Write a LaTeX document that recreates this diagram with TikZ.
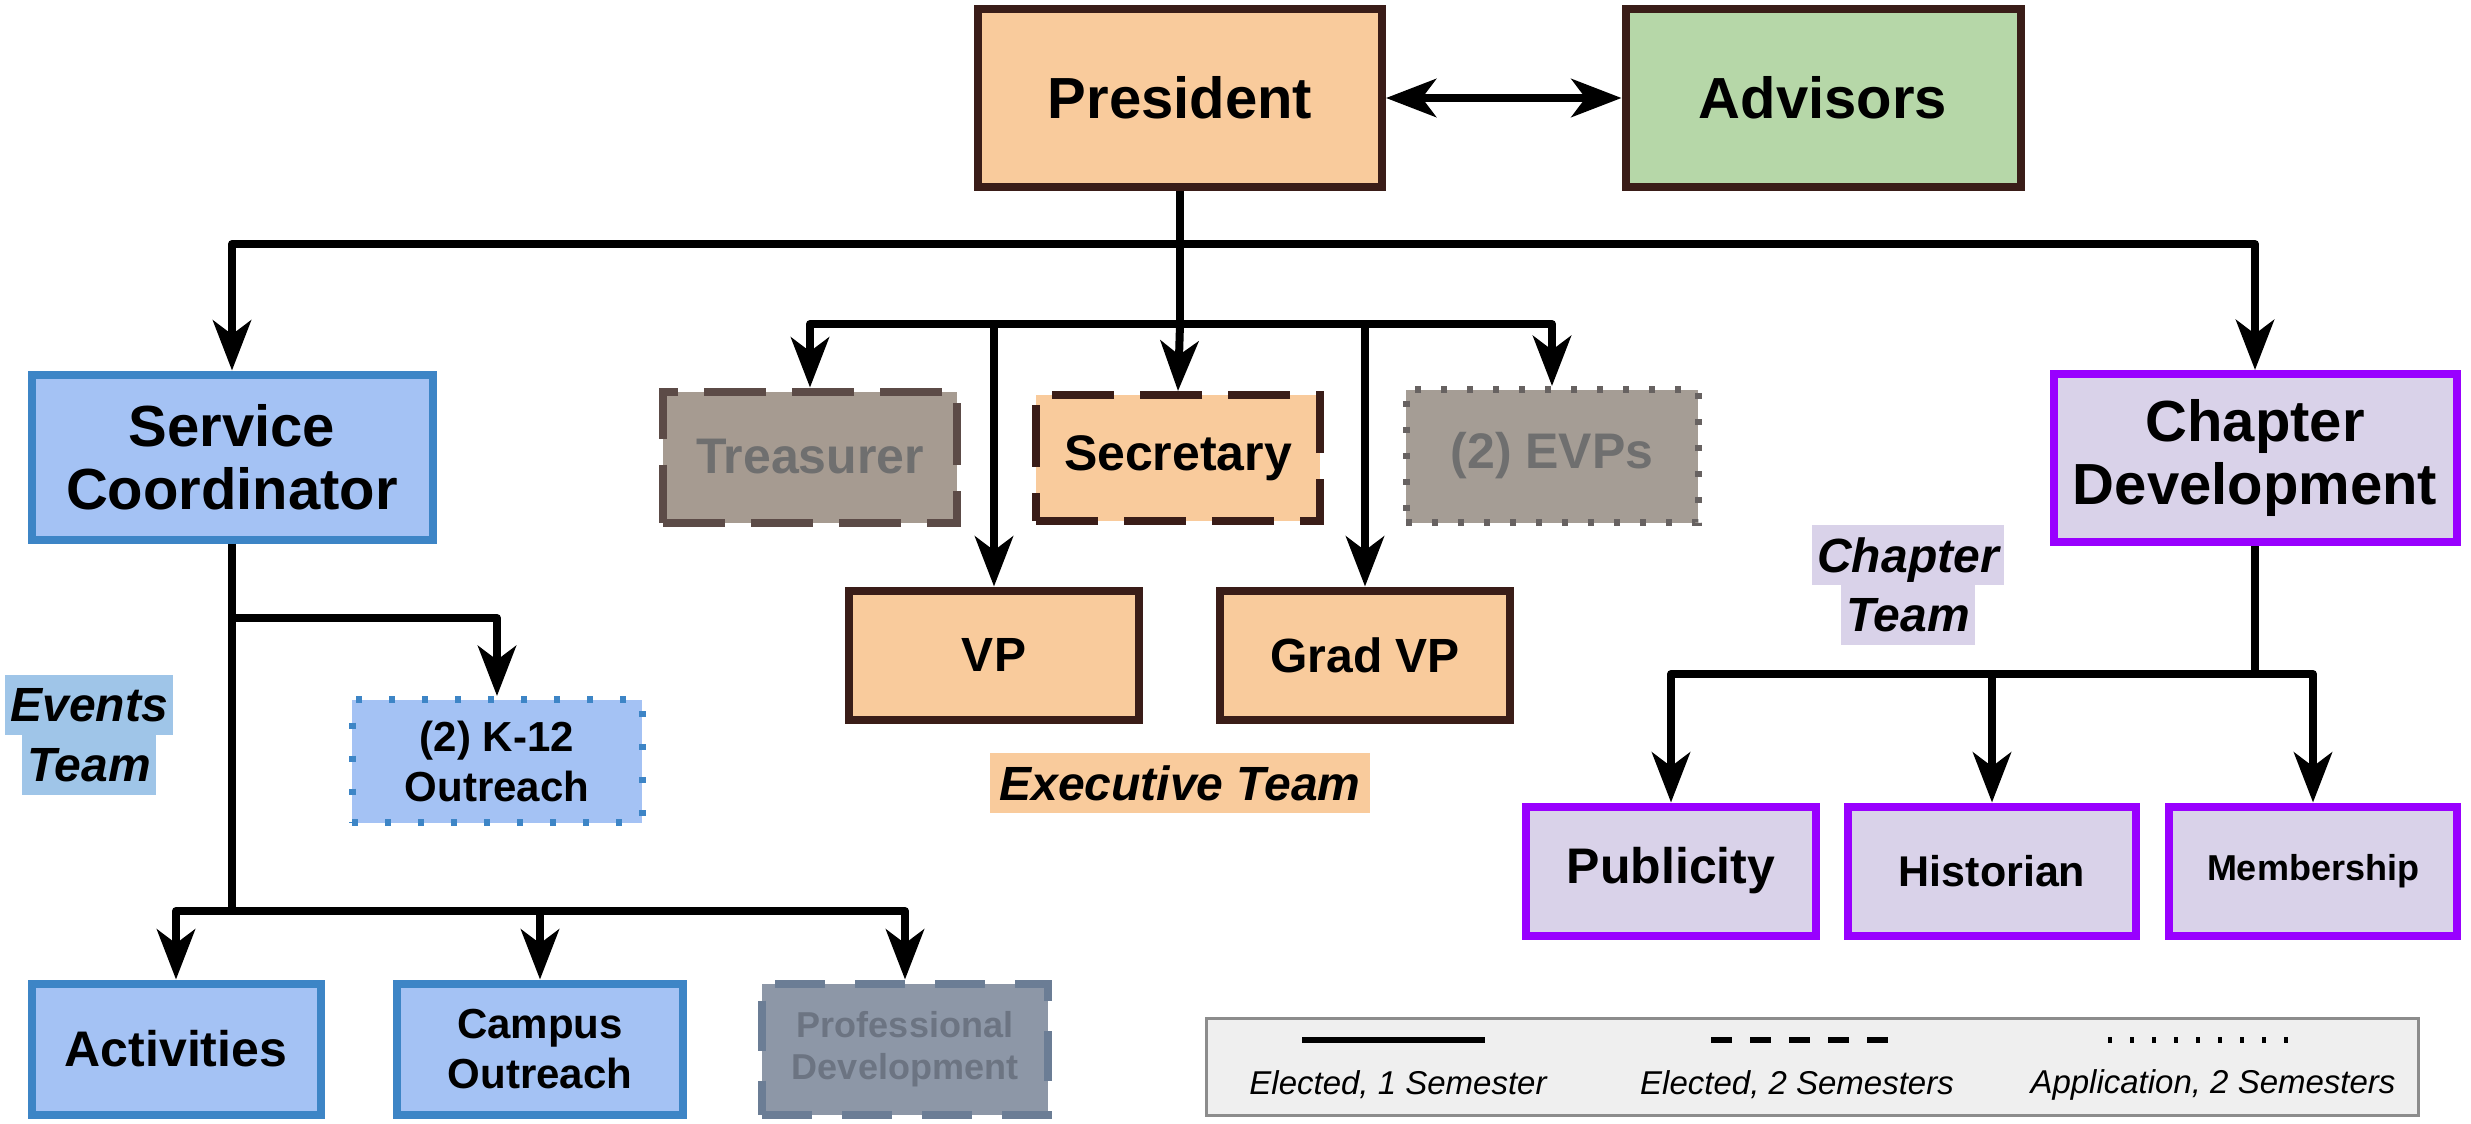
\documentclass[tikz,border=0pt]{standalone}
\usepackage{fontspec}
\setmainfont{Liberation Sans}
\usetikzlibrary{arrows.meta}
\newcommand\fsz[2]{\fontsize{#1}{#2}\selectfont}
\definecolor{peach}{HTML}{F9CB9C}
\definecolor{brownb}{HTML}{3A1D18}
\definecolor{advfill}{HTML}{B6D7A8}
\definecolor{bluefill}{HTML}{A4C2F4}
\definecolor{blueline}{HTML}{3D85C6}
\definecolor{purpfill}{HTML}{D9D2E9}
\definecolor{purpline}{HTML}{9900FF}
\definecolor{trefill}{HTML}{A69B91}
\definecolor{treline}{HTML}{5C4B47}
\definecolor{greytext}{HTML}{6F6F6F}
\definecolor{evpfill}{HTML}{A59D95}
\definecolor{evpline}{HTML}{676261}
\definecolor{profill}{HTML}{8D97A7}
\definecolor{proline}{HTML}{6B7D95}
\definecolor{protext}{HTML}{6C7482}
\definecolor{evtbg}{HTML}{9FC5E8}
\definecolor{legfill}{HTML}{EFEFEF}
\definecolor{legline}{HTML}{8C8C8C}
\tikzset{
  box/.style={rectangle, line width=8pt, align=center, inner sep=0pt},
  exec/.style={box, fill=peach, draw=brownb},
  svc/.style={box, fill=bluefill, draw=blueline},
  chap/.style={box, fill=purpfill, draw=purpline},
  conn/.style={line width=8pt, draw=black, line join=round},
  tip/.tip={Stealth[length=50pt,width=38pt,inset=14pt]},
  arr/.style={conn, -tip},
  team/.style={font={\fsz{48}{54}\bfseries\itshape}, inner xsep=5pt, inner ysep=0pt, minimum height=60pt, text depth=0pt},
  legtext/.style={font={\fsz{33}{38}\itshape}, inner sep=0pt},
}
\begin{document}
\begin{tikzpicture}[x=1pt,y=-1pt]
\useasboundingbox (0,0) rectangle (2471,1124);
% top
\node[exec, minimum width=404pt, minimum height=177pt, font={\fsz{58}{64}\bfseries}] (pres) at (1180,98) {President};
\node[box, fill=advfill, draw=brownb, minimum width=395pt, minimum height=177pt, font={\fsz{58}{64}\bfseries}] (adv) at (1823,98) {Advisors};
% second level
\node[svc, minimum width=401pt, minimum height=165pt, font={\fsz{58}{63}\bfseries}] (sc) at (232,457) {Service\\Coordinator};
\node[chap, minimum width=403pt, minimum height=168pt, font={\fsz{58}{63}\bfseries}] (cd) at (2255,458) {Chapter\\Development};
% executive
\node[box, fill=trefill, draw=treline, dash pattern=on 62pt off 26pt, minimum width=294pt, minimum height=131pt, text=greytext, font={\fsz{50}{56}\bfseries}] (tre) at (810,457) {Treasurer};
\node[exec, dash pattern=on 62pt off 26pt, minimum width=284pt, minimum height=126pt, font={\fsz{50}{56}\bfseries}] (sec) at (1178,458) {Secretary};
\node[box, fill=evpfill, draw=evpline, line width=7pt, dash pattern=on 6pt off 20pt, minimum width=292pt, minimum height=133pt, text=greytext, font={\fsz{50}{56}\bfseries}] (evp) at (1552,456) {(2) EVPs};
\node[exec, minimum width=290pt, minimum height=129pt, font={\fsz{48}{54}\bfseries}] (vp) at (994,655) {VP};
\node[exec, minimum width=290pt, minimum height=129pt, font={\fsz{48}{54}\bfseries}] (gvp) at (1365,655) {Grad VP};
% service team
\node[svc, line width=7pt, dash pattern=on 6pt off 27pt, minimum width=290pt, minimum height=123pt, font={\fsz{42}{50}\bfseries}] (k12) at (497,761) {(2) K-12\\Outreach};
\node[svc, minimum width=289pt, minimum height=131pt, font={\fsz{50}{56}\bfseries}] (act) at (176,1049) {Activities};
\node[svc, minimum width=286pt, minimum height=131pt, font={\fsz{42}{50}\bfseries}] (cam) at (540,1049) {Campus\\Outreach};
\node[box, fill=profill, draw=proline, dash pattern=on 50pt off 30pt, minimum width=286pt, minimum height=131pt, text=protext, font={\fsz{36}{42}\bfseries}] (pro) at (905,1049) {Professional\\Development};
% chapter team
\node[chap, minimum width=290pt, minimum height=129pt, font={\fsz{50}{56}\bfseries}] (pub) at (1671,871) {Publicity};
\node[chap, minimum width=288pt, minimum height=129pt, font={\fsz{43}{50}\bfseries}] (his) at (1992,871) {Historian};
\node[chap, minimum width=288pt, minimum height=129pt, font={\fsz{36}{42}\bfseries}] (mem) at (2313,871) {Membership};
% team labels
\node[team, fill=evtbg] (evt1) at (89,705) {Events};
\node[team, fill=evtbg] (evt2) at (89,765) {Team};
\node[team, fill=peach, inner xsep=9pt] (exe) at (1180,783) {Executive Team};
\node[team, fill=purpfill] (cht1) at (1908,555) {Chapter};
\node[team, fill=purpfill] (cht2) at (1908,615) {Team};
% connectors
\draw[conn, tip-tip] (pres.east) -- (adv.west);
\coordinate (j1) at (1180,244);
\coordinate (j2) at (1180,324);
\draw[conn] (pres.south) -- (j2);
\draw[arr] (j1) -| (sc.north);
\draw[arr] (j1) -| (cd.north);
\draw[arr] (j2) -| (tre.north);
\draw[arr] (j2) -| (vp.north);
\draw[arr] (j2) -- (sec.north);
\draw[arr] (j2) -| (gvp.north);
\draw[arr] (j2) -| (evp.north);
\coordinate (s1) at (232,618);
\coordinate (s2) at (232,911);
\draw[conn] (sc.south) -- (s2);
\draw[arr] (s1) -| (k12.north);
\draw[arr] (s2) -| (act.north);
\draw[arr] (s2) -| (cam.north);
\draw[arr] (s2) -| (pro.north);
\coordinate (c1) at (2255,674);
\draw[conn] (cd.south) -- (c1);
\draw[arr] (c1) -| (pub.north);
\draw[arr] (c1) -| (his.north);
\draw[arr] (c1) -| (mem.north);
% legend
\node[draw=legline, fill=legfill, line width=3pt, minimum width=1212pt, minimum height=97pt, inner sep=0pt] (leg) at (1812,1067) {};
\coordinate (la1) at (1302,1040); \coordinate (la2) at (1485,1040);
\coordinate (lb1) at (1711,1040); \coordinate (lb2) at (1888,1040);
\coordinate (lc1) at (2108,1040); \coordinate (lc2) at (2290,1040);
\draw[line width=6pt] (la1) -- (la2);
\draw[line width=6pt, dash pattern=on 21pt off 18pt] (lb1) -- (lb2);
\draw[line width=6pt, dash pattern=on 4pt off 18pt] (lc1) -- (lc2);
\node[legtext] (lt1) at (1398,1085) {Elected, 1 Semester};
\node[legtext] (lt2) at (1797,1085) {Elected, 2 Semesters};
\node[legtext] (lt3) at (2213,1085) {Application, 2 Semesters};
\end{tikzpicture}
\end{document}
